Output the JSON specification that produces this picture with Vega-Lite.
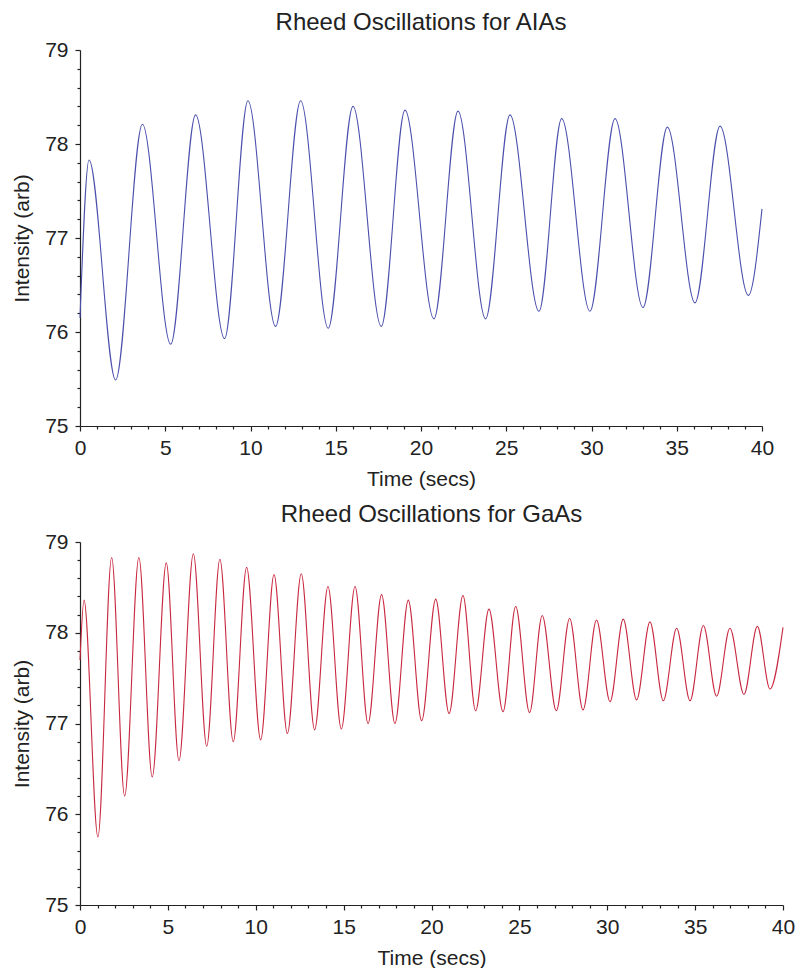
{
  "$schema": "https://vega.github.io/schema/vega-lite/v6.json",
  "padding": {"left": 11, "top": 11, "right": 10, "bottom": 0},
  "background": "white",
  "datasets": {
    "alas": [
      {"t": 0, "v": 76.15}, {"t": 0.53, "v": 77.83}, {"t": 2.09, "v": 75.49}, {"t": 3.66, "v": 78.21},
      {"t": 5.32, "v": 75.87}, {"t": 6.78, "v": 78.31}, {"t": 8.48, "v": 75.93}, {"t": 9.85, "v": 78.46},
      {"t": 11.47, "v": 76.06}, {"t": 12.94, "v": 78.46}, {"t": 14.56, "v": 76.04}, {"t": 16.01, "v": 78.40},
      {"t": 17.67, "v": 76.06}, {"t": 19.06, "v": 78.36}, {"t": 20.76, "v": 76.14}, {"t": 22.17, "v": 78.35},
      {"t": 23.79, "v": 76.14}, {"t": 25.22, "v": 78.31}, {"t": 26.92, "v": 76.22}, {"t": 28.25, "v": 78.27},
      {"t": 29.91, "v": 76.22}, {"t": 31.38, "v": 78.27}, {"t": 33.02, "v": 76.26}, {"t": 34.45, "v": 78.18},
      {"t": 36.07, "v": 76.31}, {"t": 37.54, "v": 78.19}, {"t": 39.2, "v": 76.39}, {"t": 40, "v": 77.31}
    ],
    "gaas": [
      {"t": 0, "v": 77.7}, {"t": 0.23, "v": 78.36}, {"t": 1.02, "v": 75.75}, {"t": 1.80, "v": 78.83},
      {"t": 2.54, "v": 76.20}, {"t": 3.35, "v": 78.83}, {"t": 4.11, "v": 76.41}, {"t": 4.91, "v": 78.77},
      {"t": 5.63, "v": 76.59}, {"t": 6.45, "v": 78.87}, {"t": 7.21, "v": 76.75}, {"t": 7.96, "v": 78.81},
      {"t": 8.72, "v": 76.80}, {"t": 9.48, "v": 78.72}, {"t": 10.28, "v": 76.82}, {"t": 11.04, "v": 78.64},
      {"t": 11.80, "v": 76.89}, {"t": 12.59, "v": 78.65}, {"t": 13.35, "v": 76.93}, {"t": 14.11, "v": 78.51},
      {"t": 14.87, "v": 76.94}, {"t": 15.65, "v": 78.51}, {"t": 16.39, "v": 77.0}, {"t": 17.16, "v": 78.42},
      {"t": 17.92, "v": 77.0}, {"t": 18.68, "v": 78.36}, {"t": 19.44, "v": 77.03}, {"t": 20.24, "v": 78.37},
      {"t": 21.0, "v": 77.11}, {"t": 21.79, "v": 78.41}, {"t": 22.51, "v": 77.14}, {"t": 23.27, "v": 78.26},
      {"t": 24.07, "v": 77.13}, {"t": 24.79, "v": 78.29}, {"t": 25.58, "v": 77.12}, {"t": 26.3, "v": 78.19},
      {"t": 27.10, "v": 77.14}, {"t": 27.86, "v": 78.16}, {"t": 28.62, "v": 77.15}, {"t": 29.39, "v": 78.14},
      {"t": 30.16, "v": 77.24}, {"t": 30.91, "v": 78.15}, {"t": 31.67, "v": 77.26}, {"t": 32.43, "v": 78.12},
      {"t": 33.19, "v": 77.25}, {"t": 33.95, "v": 78.05}, {"t": 34.71, "v": 77.25}, {"t": 35.47, "v": 78.08},
      {"t": 36.22, "v": 77.30}, {"t": 36.98, "v": 78.05}, {"t": 37.78, "v": 77.32}, {"t": 38.54, "v": 78.07},
      {"t": 39.26, "v": 77.38}, {"t": 40, "v": 78.06}
    ]
  },
  "config": {
    "view": {"stroke": null},
    "font": "Liberation Sans",
    "axis": {
      "grid": false,
      "domainColor": "#222222",
      "domainWidth": 1.2,
      "tickColor": "#222222",
      "tickWidth": 1.2,
      "labelColor": "#222222",
      "titleColor": "#222222",
      "labelFontSize": 21,
      "titleFontSize": 21,
      "titleFontWeight": "normal",
      "labelOverlap": false,
      "labelFlush": false,
      "labelBound": false
    },
    "title": {"fontSize": 24, "fontWeight": "normal", "color": "#222222", "offset": 4, "anchor": "middle"}
  },
  "spacing": 14,
  "vconcat": [
    {
      "title": "Rheed Oscillations for AIAs",
      "width": 682,
      "height": 376,
      "data": {"name": "alas"},
      "mark": {"type": "line", "interpolate": "monotone", "color": "#4b50ad", "strokeWidth": 1.1},
      "encoding": {
        "x": {
          "field": "t", "type": "quantitative", "scale": {"domain": [0, 40], "nice": false},
          "axis": {
            "title": "Time (secs)",
            "values": [0,1,2,3,4,5,6,7,8,9,10,11,12,13,14,15,16,17,18,19,20,21,22,23,24,25,26,27,28,29,30,31,32,33,34,35,36,37,38,39,40],
            "tickSize": {"condition": {"test": "datum.value % 5 === 0", "value": 5}, "value": 3},
            "labelExpr": "datum.value % 5 === 0 ? datum.label : ''",
            "labelPadding": 6,
            "titlePadding": 10
          }
        },
        "y": {
          "field": "v", "type": "quantitative", "scale": {"domain": [75, 79], "nice": false, "zero": false},
          "axis": {
            "title": "Intensity (arb)",
            "values": [75,75.2,75.4,75.6,75.8,76,76.2,76.4,76.6,76.8,77,77.2,77.4,77.6,77.8,78,78.2,78.4,78.6,78.8,79],
            "tickSize": {"condition": {"test": "abs(datum.value - round(datum.value)) < 0.01", "value": 5}, "value": 3},
            "labelExpr": "abs(datum.value - round(datum.value)) < 0.01 ? format(datum.value, 'd') : ''",
            "labelPadding": 7,
            "titlePadding": 12
          }
        }
      }
    },
    {
      "title": "Rheed Oscillations for GaAs",
      "width": 703,
      "height": 363,
      "data": {"name": "gaas"},
      "mark": {"type": "line", "interpolate": "monotone", "color": "#c8283f", "strokeWidth": 1.1},
      "encoding": {
        "x": {
          "field": "t", "type": "quantitative", "scale": {"domain": [0, 40], "nice": false},
          "axis": {
            "title": "Time (secs)",
            "values": [0,1,2,3,4,5,6,7,8,9,10,11,12,13,14,15,16,17,18,19,20,21,22,23,24,25,26,27,28,29,30,31,32,33,34,35,36,37,38,39,40],
            "tickSize": {"condition": {"test": "datum.value % 5 === 0", "value": 5}, "value": 3},
            "labelExpr": "datum.value % 5 === 0 ? datum.label : ''",
            "labelPadding": 6,
            "titlePadding": 10
          }
        },
        "y": {
          "field": "v", "type": "quantitative", "scale": {"domain": [75, 79], "nice": false, "zero": false},
          "axis": {
            "title": "Intensity (arb)",
            "values": [75,75.2,75.4,75.6,75.8,76,76.2,76.4,76.6,76.8,77,77.2,77.4,77.6,77.8,78,78.2,78.4,78.6,78.8,79],
            "tickSize": {"condition": {"test": "abs(datum.value - round(datum.value)) < 0.01", "value": 5}, "value": 3},
            "labelExpr": "abs(datum.value - round(datum.value)) < 0.01 ? format(datum.value, 'd') : ''",
            "labelPadding": 7,
            "titlePadding": 12
          }
        }
      }
    }
  ]
}
